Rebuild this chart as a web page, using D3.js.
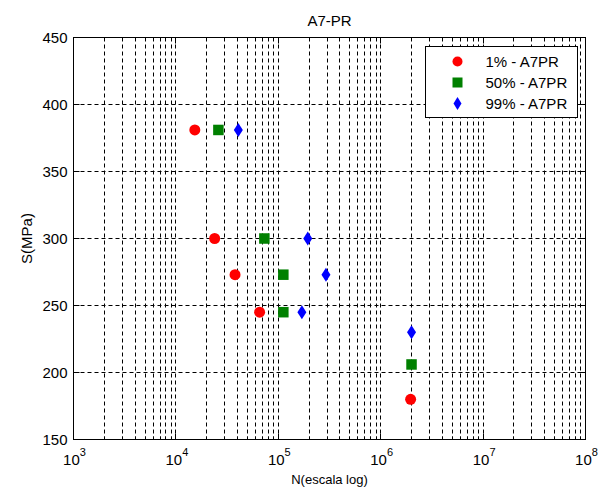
<!DOCTYPE html>
<html>
<head>
<meta charset="utf-8">
<script src="https://cdn.jsdelivr.net/npm/d3@7"></script>
<style>
  body { margin: 0; background: #fff; }
  text { font-family: "Liberation Sans", Arial, sans-serif; fill: #000; }
</style>
</head>
<body>
<div id="chart"></div>
<script>
// data
const stressLevels = [381, 300, 273, 245];
const cycles1 = [15300, 23900, 37800, 65700, 1960000];
const stress1 = [381, 300, 273, 245, 180];
const cycles50 = [26000, 73100, 112000, 112000, 2000000];
const stress50 = [381, 300, 273, 245, 206];
const cycles99 = [40700, 194000, 292000, 170000, 2000000];
const stress99 = [381, 300, 273, 245, 230];
const seriesNames = ["1% - A7PR", "50% - A7PR", "99% - A7PR"];
const yTicks = [150, 200, 250, 300, 350, 400, 450];
const xDecades = [3, 4, 5, 6, 7, 8];

let svgWidth = 599;
let svgHeight = 487;
let margin = { top: 37, right: 14, bottom: 48, left: 73 };
let width = svgWidth - margin.left - margin.right;
let height = svgHeight - margin.top - margin.bottom;

var svg = d3.select("#chart").append("svg")
    .attr("width", svgWidth)
    .attr("height", svgHeight);

var chartGroup = svg.append("g")
    .attr("transform", `translate(${margin.left + 0.5}, ${margin.top + 0.5})`);

var xScale = d3.scaleLog().domain([1e3, 1e8]).range([0, width]);
var yScale = d3.scaleLinear().domain([150, 450]).range([height, 0]);

// all log ticks: decades plus 2..9 minor
var minorX = [];
for (let e = 3; e < 8; e++) {
    for (let m = 2; m <= 9; m++) minorX.push(m * Math.pow(10, e));
}
var majorX = xDecades.map(e => Math.pow(10, e));

// grid
var grid = chartGroup.append("g")
    .attr("stroke", "#000")
    .attr("stroke-width", 1)
    .attr("stroke-dasharray", "4,3");

grid.selectAll("line.vx")
    .data(minorX.concat(majorX.slice(1, -1)))
    .enter().append("line")
    .attr("x1", d => Math.round(xScale(d)))
    .attr("x2", d => Math.round(xScale(d)))
    .attr("y1", 0).attr("y2", height);

grid.selectAll("line.hy")
    .data(yTicks.slice(1, -1))
    .enter().append("line")
    .attr("x1", 0).attr("x2", width)
    .attr("y1", d => Math.round(yScale(d)))
    .attr("y2", d => Math.round(yScale(d)));

// tick marks on all four sides
var ticks = chartGroup.append("g").attr("stroke", "#000");
majorX.forEach(function(d) {
    let x = Math.round(xScale(d));
    ticks.append("line").attr("x1", x).attr("x2", x).attr("y1", height).attr("y2", height - 6);
    ticks.append("line").attr("x1", x).attr("x2", x).attr("y1", 0).attr("y2", 6);
});
minorX.forEach(function(d) {
    let x = Math.round(xScale(d));
    ticks.append("line").attr("x1", x).attr("x2", x).attr("y1", height).attr("y2", height - 3);
    ticks.append("line").attr("x1", x).attr("x2", x).attr("y1", 0).attr("y2", 3);
});
yTicks.forEach(function(d) {
    let y = Math.round(yScale(d));
    ticks.append("line").attr("x1", 0).attr("x2", 6).attr("y1", y).attr("y2", y);
    ticks.append("line").attr("x1", width).attr("x2", width - 6).attr("y1", y).attr("y2", y);
});

// box
chartGroup.append("rect")
    .attr("width", width).attr("height", height)
    .attr("fill", "none").attr("stroke", "#000");

// y tick labels
chartGroup.selectAll("text.ylab")
    .data(yTicks)
    .enter().append("text")
    .attr("x", -6)
    .attr("y", d => yScale(d) + 5)
    .attr("text-anchor", "end")
    .attr("font-size", "15px")
    .text(d => d);

// x tick labels 10^n
var xLabs = chartGroup.selectAll("text.xlab")
    .data(xDecades)
    .enter().append("text")
    .attr("x", d => xScale(Math.pow(10, d)) + 1)
    .attr("y", height + 25)
    .attr("text-anchor", "middle")
    .attr("font-size", "15px");
xLabs.append("tspan").text("10");
xLabs.append("tspan").attr("dy", -9).attr("font-size", "11px").text(d => d);

// axis titles
chartGroup.append("text")
    .attr("x", width / 2)
    .attr("y", -12)
    .attr("text-anchor", "middle")
    .attr("font-size", "15px")
    .text("A7-PR");

chartGroup.append("text")
    .attr("x", width / 2)
    .attr("y", height + 44)
    .attr("text-anchor", "middle")
    .attr("font-size", "13px")
    .text("N(escala log)");

chartGroup.append("text")
    .attr("transform", `translate(${-42}, ${height / 2}) rotate(-90)`)
    .attr("text-anchor", "middle")
    .attr("font-size", "15px")
    .text("S(MPa)");

// markers
function drawCircle(g, x, y, r) {
    g.append("circle").attr("cx", x).attr("cy", y).attr("r", r).attr("fill", "#ff0000");
}
function drawSquare(g, x, y, s) {
    g.append("rect").attr("x", x - s / 2).attr("y", y - s / 2)
        .attr("width", s).attr("height", s).attr("fill", "#008000");
}
function drawDiamond(g, x, y, w, h) {
    g.append("path")
        .attr("d", `M${x},${y - h / 2}L${x + w / 2},${y}L${x},${y + h / 2}L${x - w / 2},${y}Z`)
        .attr("fill", "#0000ff");
}

var points = chartGroup.append("g");
cycles1.forEach((n, i) => drawCircle(points, xScale(n), yScale(stress1[i]), 5.5));
cycles50.forEach((n, i) => drawSquare(points, xScale(n), yScale(stress50[i]), 10.5));
cycles99.forEach((n, i) => drawDiamond(points, xScale(n), yScale(stress99[i]), 9, 14));

// legend
var legend = svg.append("g").attr("transform", "translate(425.5, 46.5)");
legend.append("rect")
    .attr("width", 152).attr("height", 71)
    .attr("fill", "#fff").attr("stroke", "#000");

var rowY = [15, 36, 57];
drawCircle(legend, 32, rowY[0], 5);
drawSquare(legend, 32, rowY[1], 10);
drawDiamond(legend, 32, rowY[2], 8, 13);

legend.selectAll("text.leg")
    .data(seriesNames)
    .enter().append("text")
    .attr("x", 60)
    .attr("y", (d, i) => rowY[i] + 5.5)
    .attr("font-size", "15px")
    .text(d => d);
</script>
</body>
</html>
